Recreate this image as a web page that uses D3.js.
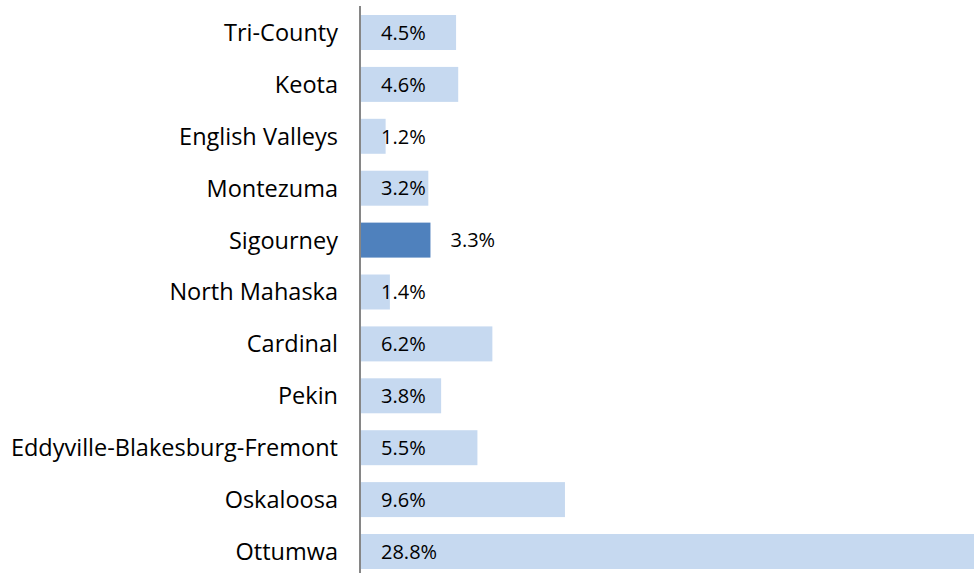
<!DOCTYPE html>
<html><head><meta charset="utf-8">
<script src="https://cdn.jsdelivr.net/npm/d3@7"></script>
<style>body{margin:0;background:#fff}svg{display:block}</style>
</head><body>
<svg id="c" width="974" height="573"></svg>
<script>
const categories = ["Tri-County","Keota","English Valleys","Montezuma","Sigourney","North Mahaska","Cardinal","Pekin","Eddyville-Blakesburg-Fremont","Oskaloosa","Ottumwa"];
const values = [4.5,4.6,1.2,3.2,3.3,1.4,6.2,3.8,5.5,9.6,28.8];
const highlighted = ["Sigourney"];

const svg = d3.select("#c");
const x = d3.scaleLinear().domain([0,30]).range([360, 360+30*21.35]);
const y = d3.scaleBand().domain(categories).range([6.55, 577.45]).paddingInner(0.326).paddingOuter(0.163);

svg.selectAll("rect.bar").data(categories).join("rect")
  .attr("x", x(0)+1)
  .attr("y", d=>y(d))
  .attr("width", (d,i)=>x(values[i])-x(0)-1)
  .attr("height", y.bandwidth())
  .attr("fill", d=>highlighted.includes(d) ? "#4f81bd" : "#c6d9f0");

svg.append("line").attr("x1",x(0)).attr("x2",x(0)).attr("y1",6).attr("y2",573)
  .attr("stroke","#868686").attr("stroke-width",2);

svg.selectAll("text.cat").data(categories).join("text")
  .attr("x", 338).attr("y", d=>y(d)+y.bandwidth()/2)
  .attr("dy","0.36em").attr("text-anchor","end")
  .attr("font-family","'Open Sans', sans-serif").attr("font-size",23.5).attr("fill","#000")
  .text(d=>d);

svg.selectAll("text.val").data(categories).join("text")
  .attr("x", (d,i)=>highlighted.includes(d) ? x(values[i])+20 : x(0)+21)
  .attr("y", d=>y(d)+y.bandwidth()/2)
  .attr("dy","0.36em").attr("text-anchor","start")
  .attr("font-family","'Open Sans', sans-serif").attr("font-size",20).attr("fill","#000")
  .text((d,i)=>values[i].toFixed(1)+"%");
</script>
</body></html>
